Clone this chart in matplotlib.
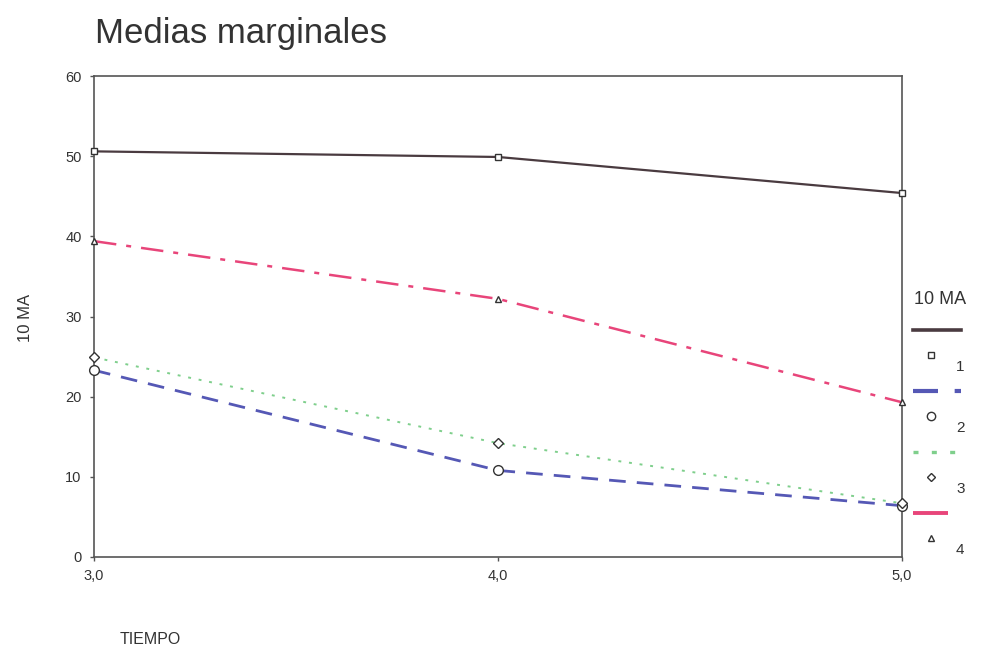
import matplotlib.pyplot as plt
from matplotlib.lines import Line2D

plt.rcParams["font.family"] = ["Liberation Sans", "DejaVu Sans"]

# data
tiempo = [3.0, 4.0, 5.0]
groups = ["1", "2", "3", "4"]
g1 = [50.6, 49.9, 45.4]
g2 = [23.3, 10.8, 6.4]
g3 = [24.9, 14.2, 6.7]
g4 = [39.4, 32.2, 19.3]
series = [g1, g2, g3, g4]

colors = ["#4a3b40", "#5558b5", "#7fcf8c", "#e8457a"]
styles = ["-", (0, (6, 4)), (0, (1.5, 4)), (0, (9, 4, 2, 4))]
widths = [1.6, 2.0, 1.4, 1.8]
markers = ["s", "o", "D", "^"]
msizes = [5, 7, 5, 5]

fig = plt.figure(figsize=(9.84, 6.54), dpi=100)
ax = fig.add_axes([94 / 984, 1 - 557 / 654, 808 / 984, 481 / 654])

for y, c, ls, lw, m, ms in zip(series, colors, styles, widths, markers, msizes):
    ax.plot(tiempo, y, color=c, linestyle=ls, linewidth=lw, clip_on=False, zorder=2)
    ax.plot(tiempo, y, linestyle="none", marker=m, markersize=ms,
            markerfacecolor="white", markeredgecolor="#333333",
            markeredgewidth=1.0, clip_on=False, zorder=3)

ax.set_xlim(3.0, 5.0)
ax.set_ylim(0, 60)
ax.set_xticks(tiempo)
ax.set_xticklabels(["3,0", "4,0", "5,0"])
ax.set_yticks(range(0, 61, 10))
for s in ax.spines.values():
    s.set_color("#555555")
    s.set_linewidth(1.2)
ax.tick_params(axis="both", labelsize=10.5, labelcolor="#333333",
               color="#555555", length=3, width=1, pad=6)

fig.text(95 / 984, 1 - 33 / 654, "Medias marginales", fontsize=25,
         color="#333333", va="center", ha="left")
fig.text(25 / 984, 1 - 318 / 654, "10 MA", rotation=90, fontsize=12,
         color="#333333", va="center", ha="center")
fig.text(120 / 984, 1 - 640 / 654, "TIEMPO", fontsize=11.5,
         color="#333333", va="center", ha="left")

# legend drawn at the right, outside the axes
fig.text(914 / 984, 1 - 300 / 654, "10 MA", fontsize=13,
         color="#333333", va="center", ha="left")
for i, (g, c, ls, lw, m, ms) in enumerate(zip(groups, colors, styles, widths, markers, msizes)):
    ly = 330 + i * 61
    fig.add_artist(Line2D([913 / 984, 961 / 984], [1 - ly / 654, 1 - ly / 654],
                          color=c, linestyle=ls, linewidth=lw + 1.0))
    fig.add_artist(Line2D([931 / 984], [1 - (ly + 25) / 654], linestyle="none",
                          marker=m, markersize=ms - 1, markerfacecolor="white",
                          markeredgecolor="#333333", markeredgewidth=1.0))
    fig.text(956 / 984, 1 - (ly + 37) / 654, g, fontsize=11,
             color="#333333", va="center", ha="left")

fig.savefig("out.png", dpi=100)
